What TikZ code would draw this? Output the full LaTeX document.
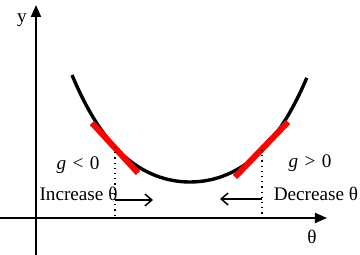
\documentclass[tikz,border=0pt]{standalone}
\usepackage{fontspec}
\setmainfont{Liberation Serif}
\usetikzlibrary{arrows.meta}
\begin{document}
\begin{tikzpicture}[x=0.5pt, y=0.5pt, font=\fontsize{9.6}{11}\selectfont]
  \useasboundingbox (0,0) rectangle (360,255);
  % axes
  \draw[line width=1pt, -{Triangle[length=6pt,width=5pt]}] (0,37) -- (327,37);
  \draw[line width=1pt, -{Triangle[length=6pt,width=5pt]}] (36,0) -- (36,250);
  \node (ylab) at (22,235) {y};
  \node (thlab) at (312,18) {θ};
  % cost curve
  \draw[line width=1.7pt, domain=-1:0.99, samples=60, smooth]
    plot ({190+118*\x}, {73+107*(0.68*\x*\x+0.32*\x*\x*\x*\x)});
  % tangents
  \draw[red, line width=3pt] (92,132) -- (138,82);
  \draw[red, line width=3pt] (235,78) -- (288,133);
  \coordinate (tl) at (115,108);
  \coordinate (tr) at (262,105);
  \draw[dotted, line width=0.6pt] (tl) -- (tl |- 0,37);
  \draw[dotted, line width=0.6pt] (tr) -- (tr |- 0,37);
  % step directions
  \draw[line width=0.75pt, -{Straight Barb[length=3.5pt,width=6pt]}] (115,55) -- (153,55);
  \draw[line width=0.75pt, -{Straight Barb[length=3.5pt,width=6pt]}] (262,56) -- (220,56);
  \node (gneg) at (78,90) {\textit{g}\,\,<\,\,0};
  \node (inc) at (78.5,61) {Increase θ};
  \node (gpos) at (310,92) {\textit{g}\,\,>\,\,0};
  \node (dec) at (316,61) {Decrease θ};
\end{tikzpicture}
\end{document}
